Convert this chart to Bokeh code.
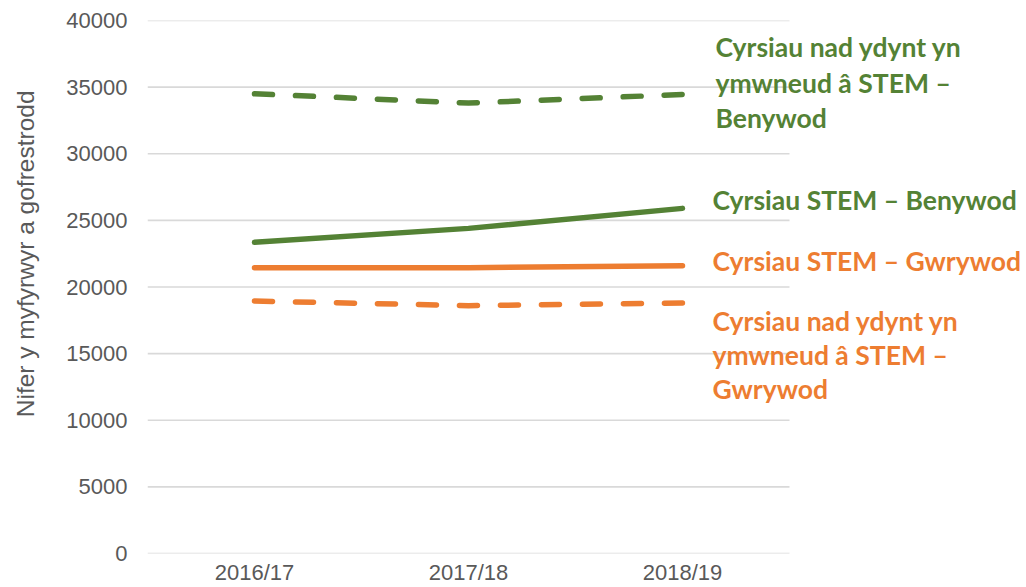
import math
from bokeh.plotting import figure
from bokeh.layouts import row
from bokeh.models import Range1d, SingleIntervalTicker, FixedTicker, Label
from bokeh.core.properties import value
from bokeh.embed import file_html
from bokeh.resources import INLINE

years = ["2016/17", "2017/18", "2018/19"]
non_stem_female = [34500, 33800, 34450]
stem_female = [23350, 24400, 25900]
stem_male = [21450, 21450, 21600]
non_stem_male = [18950, 18600, 18800]
y_ticks = [0, 5000, 10000, 15000, 20000, 25000, 30000, 35000, 40000]

label_non_stem_female = ["Cyrsiau nad ydynt yn", "ymwneud â STEM –", "Benywod"]
label_stem_female = ["Cyrsiau STEM – Benywod"]
label_stem_male = ["Cyrsiau STEM – Gwrywod"]
label_non_stem_male = ["Cyrsiau nad ydynt yn", "ymwneud â STEM –", "Gwrywod"]
y_title = "Nifer y myfyrwyr a gofrestrodd"

GREEN = "#548235"
ORANGE = "#ED7D31"
GREY = "#595959"

# category positions: one unit per category
xs = [i + 0.5 for i in range(len(years))]
n_cat = len(years)

W, H = 1026, 587
TITLE_W = 45
LEFT, TOP, BOTTOM = 147, 20, 553
unit_px = (789 - LEFT) / n_cat
x_end = (W - LEFT) / unit_px

# narrow panel holding the vertical axis title
t = figure(width=TITLE_W, height=H, x_range=Range1d(0, TITLE_W), y_range=Range1d(H, 0),
           output_backend="svg", toolbar_location=None, min_border=0)
t.axis.visible = False
t.grid.visible = False
t.outline_line_color = None
t.text(x=[25], y=[257], text=[y_title], angle=math.pi / 2,
       text_font=value("Liberation Sans"), text_font_size="24.5px", text_color=GREY,
       text_align="center", text_baseline="middle")

p = figure(width=W - TITLE_W, height=H, x_range=Range1d(0, x_end), y_range=Range1d(0, 40000),
           output_backend="svg", toolbar_location=None,
           min_border_left=LEFT - TITLE_W, min_border_right=0, min_border_top=TOP,
           min_border_bottom=H - BOTTOM)
p.outline_line_color = None
p.background_fill_color = "white"
p.xgrid.grid_line_color = None
p.ygrid.grid_line_color = None

p.yaxis.ticker = SingleIntervalTicker(interval=5000)
p.xaxis.ticker = FixedTicker(ticks=xs)
p.xaxis.major_label_overrides = {x: y for x, y in zip(xs, years)}
for ax in (p.xaxis, p.yaxis):
    ax.axis_line_color = None
    ax.major_tick_line_color = None
    ax.minor_tick_line_color = None
    ax.major_tick_out = 0
    ax.major_tick_in = 0
    ax.minor_tick_out = 0
    ax.major_label_text_font = "Liberation Sans"
    ax.major_label_text_font_size = "22px"
    ax.major_label_text_color = GREY
p.yaxis.major_label_standoff = 20
p.xaxis.major_label_standoff = 6

# horizontal gridlines spanning the category area only
p.segment(x0=[0] * len(y_ticks), x1=[n_cat] * len(y_ticks), y0=y_ticks, y1=y_ticks,
          line_color="#d9d9d9", line_width=1.6)

p.line(xs, non_stem_female, line_color=GREEN, line_width=5.5, line_dash="18 23", line_cap="round")
p.line(xs, stem_female, line_color=GREEN, line_width=5.5, line_cap="round")
p.line(xs, stem_male, line_color=ORANGE, line_width=5.5, line_cap="round")
p.line(xs, non_stem_male, line_color=ORANGE, line_width=5.5, line_dash="18 23", line_cap="round")

def add_lines(lines, centers, color, px):
    for txt, py in zip(lines, centers):
        p.add_layout(Label(x=px - TITLE_W, y=py, x_units="canvas", y_units="canvas", text=txt,
                           text_font="Lato", text_font_style="bold",
                           text_font_size="26.5px", text_color=color,
                           text_baseline="middle", text_align="left"))

add_lines(label_non_stem_female, [46, 82, 117], GREEN, 715)
add_lines(label_stem_female, [199], GREEN, 712)
add_lines(label_stem_male, [260], ORANGE, 712)
add_lines(label_non_stem_male, [320, 354, 388], ORANGE, 712)

open("out.html", "w").write(file_html(row(t, p), INLINE))
